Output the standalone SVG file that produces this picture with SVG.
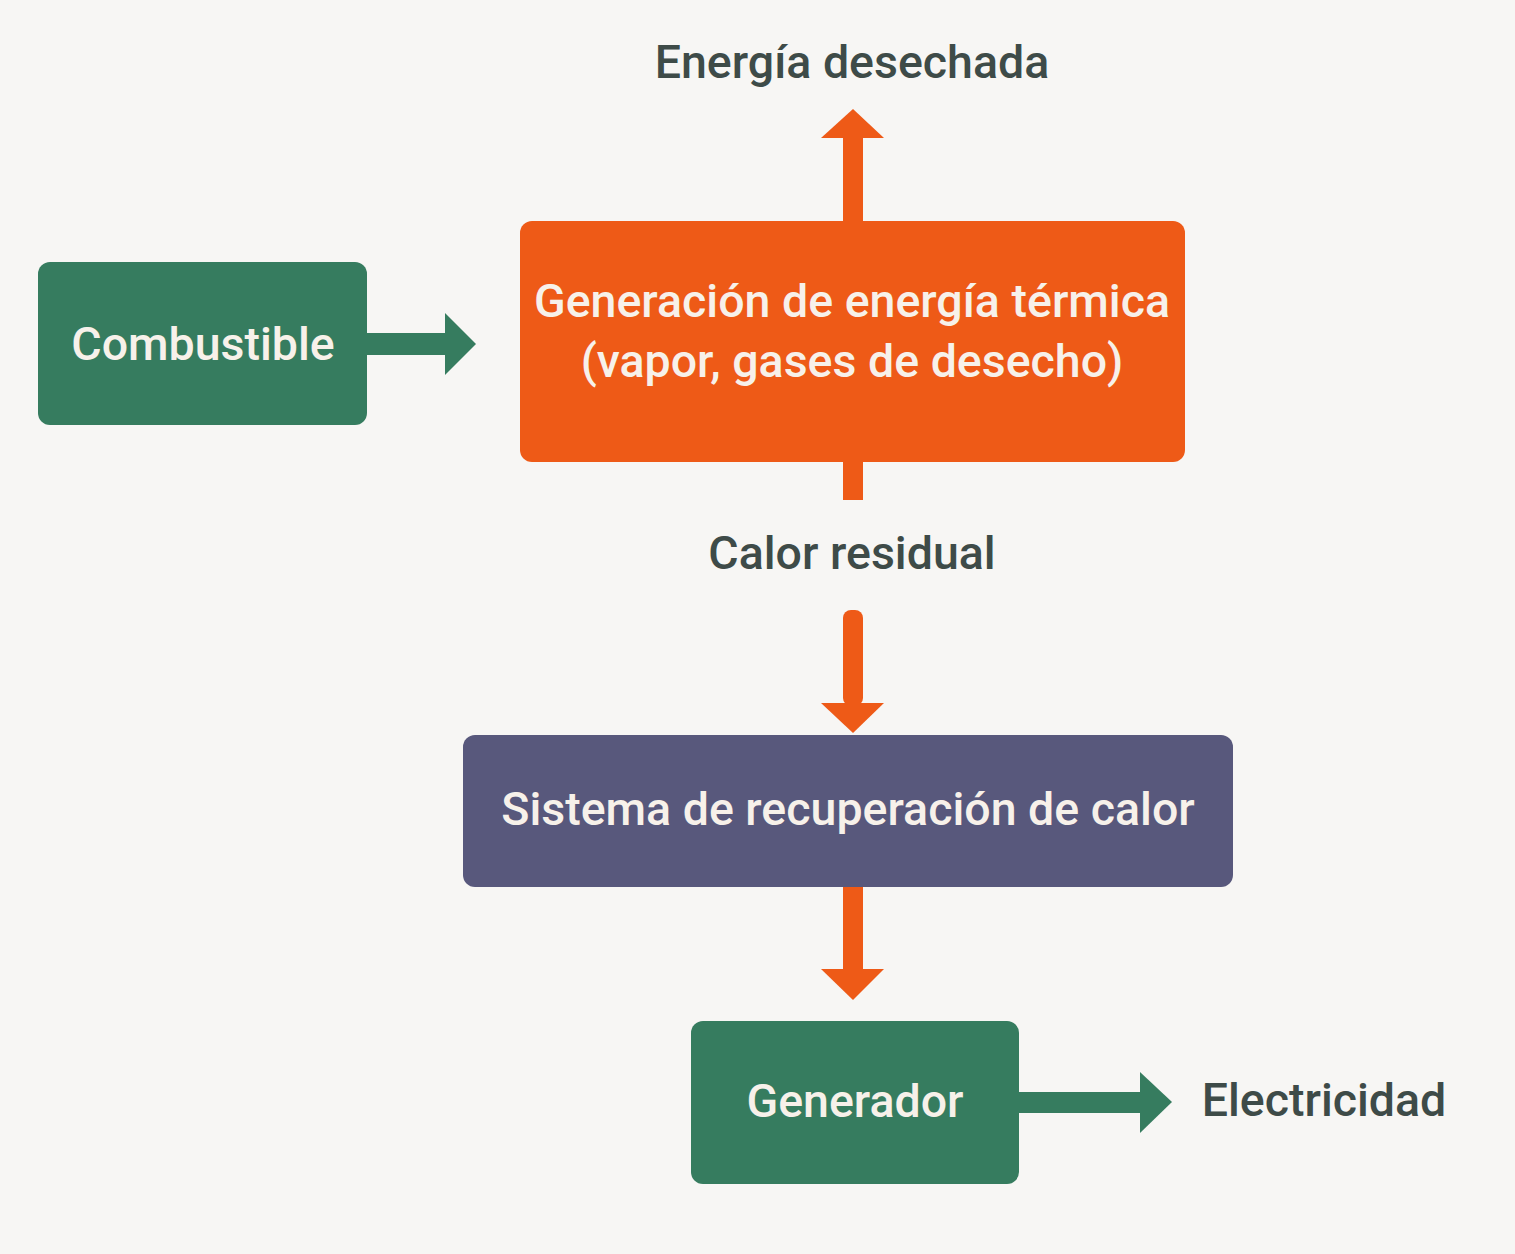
<svg xmlns="http://www.w3.org/2000/svg" width="1515" height="1254" viewBox="0 0 1515 1254">
<style>
.lbl{font-family:Roboto,"Liberation Sans",sans-serif;font-size:46.5px;fill:#3e4b48;text-anchor:middle;font-weight:500}
.nt{font-family:Roboto,"Liberation Sans",sans-serif;font-size:46.5px;fill:#f7f1ea;text-anchor:middle;font-weight:500}
.or{fill:#ee5a17}
.gr{fill:#367c5f}
</style>
<rect width="1515" height="1254" fill="#f7f6f4"/>
<g id="connectors">
  <g id="up-arrow" class="or">
    <rect x="843" y="136" width="20" height="90"/>
    <polygon points="821,138 853,109 884,138"/>
  </g>
  <rect id="stub" class="or" x="843" y="458" width="20" height="42"/>
  <g id="down-arrow-1" class="or">
    <rect x="843" y="610" width="20" height="96" rx="8"/>
    <polygon points="821,703 884,703 853,733"/>
  </g>
  <g id="down-arrow-2" class="or">
    <rect x="843" y="884" width="20" height="88"/>
    <polygon points="821,969 884,969 853,1000"/>
  </g>
  <g id="fuel-arrow" class="gr">
    <rect x="362" y="333" width="86" height="22"/>
    <polygon points="445,313 476,344 445,375"/>
  </g>
  <g id="elec-arrow" class="gr">
    <rect x="1015" y="1092" width="128" height="21"/>
    <polygon points="1140,1072 1172,1102 1140,1133"/>
  </g>
</g>
<g id="node-combustible">
  <rect x="38" y="262" width="329" height="163" rx="12" fill="#367c5f"/>
  <text class="nt" x="203" y="360">Combustible</text>
</g>
<g id="node-generacion">
  <rect x="520" y="221" width="665" height="241" rx="12" fill="#ee5a17"/>
  <text class="nt" x="852" y="317">Generación de energía térmica</text>
  <text class="nt" x="852" y="377">(vapor, gases de desecho)</text>
</g>
<g id="node-sistema">
  <rect x="463" y="735" width="770" height="152" rx="12" fill="#58587c"/>
  <text class="nt" x="848" y="825">Sistema de recuperación de calor</text>
</g>
<g id="node-generador">
  <rect x="691" y="1021" width="328" height="163" rx="12" fill="#367c5f"/>
  <text class="nt" x="855" y="1117">Generador</text>
</g>
<g id="labels">
  <text class="lbl" x="852" y="78">Energía desechada</text>
  <text class="lbl" x="852" y="569">Calor residual</text>
  <text class="lbl" x="1324" y="1116">Electricidad</text>
</g>
</svg>
